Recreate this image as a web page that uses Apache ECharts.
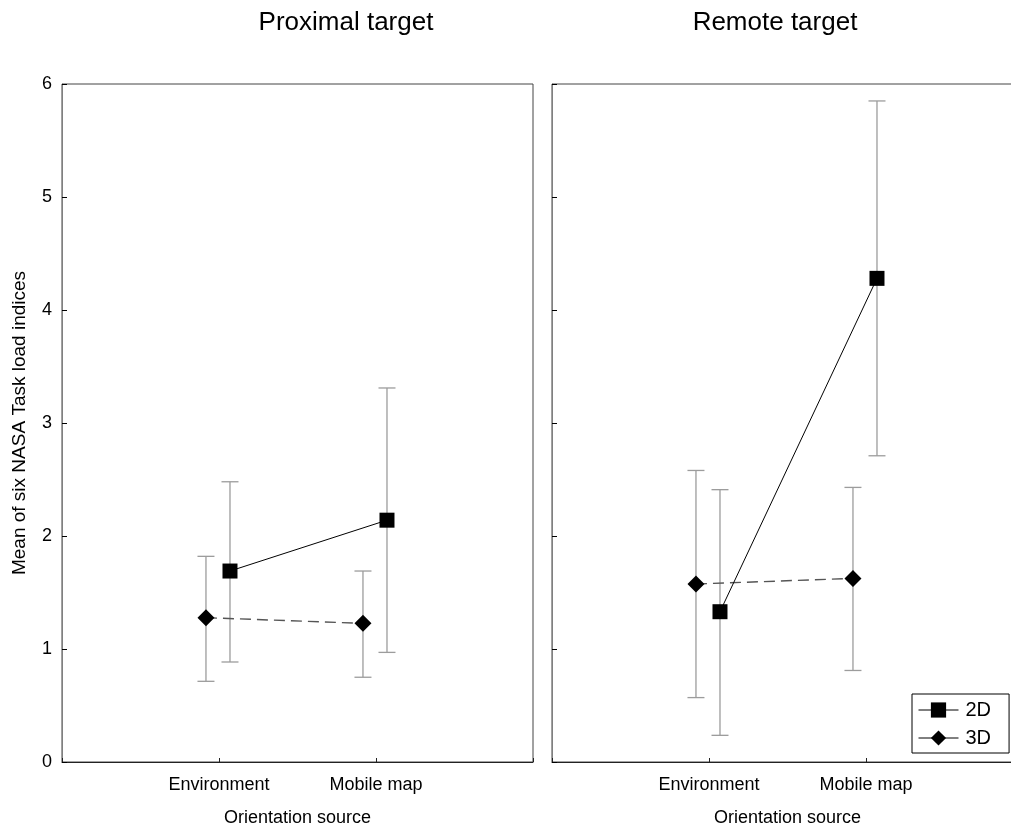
<!DOCTYPE html>
<html>
<head>
<meta charset="utf-8">
<script src="https://cdn.jsdelivr.net/npm/echarts@6/dist/echarts.min.js"></script>
<style>html,body{margin:0;padding:0;background:#fff}#c{width:1011px;height:825px}</style>
</head>
<body>
<div id="c"></div>
<script>
// Data
var panels = ['Proximal target', 'Remote target'];
var categories = ['Environment', 'Mobile map'];
var yTicks = [0, 1, 2, 3, 4, 5, 6];
// [panel][category]
var mean2D = [[1.69, 2.14], [1.33, 4.28]];
var low2D  = [[0.885, 0.97], [0.236, 2.71]];
var high2D = [[2.48, 3.31], [2.41, 5.85]];
var mean3D = [[1.277, 1.227], [1.575, 1.625]];
var low3D  = [[0.714, 0.75], [0.57, 0.81]];
var high3D = [[1.82, 1.69], [2.58, 2.43]];
var offset2D = 0.07, offset3D = -0.083;

var FONT = 'Liberation Sans, Arial, sans-serif';
var chart = echarts.init(document.getElementById('c'), null, {renderer: 'canvas'});

var grids = [
  {left: 62, top: 84, width: 471, height: 678, show: true, borderColor: '#444', borderWidth: 1, outerBoundsMode: 'none', containLabel: false},
  {left: 552, top: 84, width: 471, height: 678, show: true, borderColor: '#444', borderWidth: 1, outerBoundsMode: 'none', containLabel: false}
];

function xAxis(i) {
  return {
    type: 'value', gridIndex: i, min: 0, max: 3, interval: 1,
    name: 'Orientation source', nameLocation: 'middle', nameGap: 47,
    nameTextStyle: {fontFamily: FONT, fontSize: 18, color: '#000'},
    axisLine: {show: true, lineStyle: {color: '#222', width: 1}},
    axisTick: {show: true, inside: true, length: 4, lineStyle: {color: '#222'}},
    axisLabel: {fontFamily: FONT, fontSize: 18, color: '#000', margin: 14,
      formatter: function (v) { return (v >= 1 && v <= 2) ? categories[v - 1] : ''; }},
    splitLine: {show: false}
  };
}
function yAxis(i) {
  return {
    type: 'value', gridIndex: i, min: 0, max: 6, interval: 1,
    name: i === 0 ? 'Mean of six NASA Task load indices' : '',
    nameLocation: 'middle', nameGap: 33,
    nameTextStyle: {fontFamily: FONT, fontSize: 19, color: '#000'},
    axisLine: {show: true, lineStyle: {color: '#808080', width: 1}},
    axisTick: {show: true, inside: true, length: 5, lineStyle: {color: '#000'}},
    axisLabel: {show: i === 0, fontFamily: FONT, fontSize: 18, color: '#000', margin: 10,
      formatter: function (v) { return yTicks.indexOf(v) >= 0 ? String(v) : ''; }},
    splitLine: {show: false}
  };
}

function errData(p) {
  var d = [];
  for (var c = 0; c < categories.length; c++) {
    d.push([c + 1 + offset2D, low2D[p][c], high2D[p][c]]);
    d.push([c + 1 + offset3D, low3D[p][c], high3D[p][c]]);
  }
  return d;
}
function renderErr(params, api) {
  var x = api.value(0);
  var lo = api.coord([x, api.value(1)]);
  var hi = api.coord([x, api.value(2)]);
  var w = 8.5;
  var st = {stroke: '#9c9c9c', lineWidth: 1.3, fill: null};
  return {type: 'group', children: [
    {type: 'line', shape: {x1: lo[0], y1: lo[1], x2: hi[0], y2: hi[1]}, style: st},
    {type: 'line', shape: {x1: lo[0] - w, y1: lo[1], x2: lo[0] + w, y2: lo[1]}, style: st},
    {type: 'line', shape: {x1: hi[0] - w, y1: hi[1], x2: hi[0] + w, y2: hi[1]}, style: st}
  ]};
}

var series = [];
for (var p = 0; p < 2; p++) {
  series.push({type: 'custom', xAxisIndex: p, yAxisIndex: p, renderItem: renderErr,
    data: errData(p), z: 1, silent: true, clip: false});
  series.push({name: '3D', type: 'line', xAxisIndex: p, yAxisIndex: p, z: 3,
    data: categories.map(function (c, i) { return [i + 1 + offset3D, mean3D[p][i]]; }),
    symbol: 'diamond', symbolSize: [17, 17], showSymbol: true,
    lineStyle: {color: '#555', width: 1.4, type: [11, 6]},
    itemStyle: {color: '#000'}, animation: false});
  series.push({name: '2D', type: 'line', xAxisIndex: p, yAxisIndex: p, z: 4,
    data: categories.map(function (c, i) { return [i + 1 + offset2D, mean2D[p][i]]; }),
    symbol: 'rect', symbolSize: 15, showSymbol: true,
    lineStyle: {color: '#000', width: 1},
    itemStyle: {color: '#000'}, animation: false});
}

chart.setOption({
  animation: false,
  backgroundColor: '#fff',
  grid: grids,
  xAxis: [xAxis(0), xAxis(1)],
  yAxis: [yAxis(0), yAxis(1)],
  legend: {
    data: ['2D', '3D'], orient: 'vertical', left: 912, top: 694,
    itemWidth: 40, itemHeight: 19, itemGap: 8,
    padding: [6, 18, 5, 6],
    borderColor: '#000', borderWidth: 1, backgroundColor: '#fff',
    lineStyle: {type: 'solid', color: '#000', width: 1},
    textStyle: {fontFamily: FONT, fontSize: 20, color: '#000', padding: [0, 0, 0, 2]},
    selectedMode: false
  },
  graphic: [
    {type: 'text', x: 346, y: 23, style: {text: panels[0], font: '26px ' + FONT, fill: '#000', textAlign: 'center', textVerticalAlign: 'middle'}},
    {type: 'text', x: 775, y: 23, style: {text: panels[1], font: '26px ' + FONT, fill: '#000', textAlign: 'center', textVerticalAlign: 'middle'}}
  ],
  series: series
});
</script>
</body>
</html>
